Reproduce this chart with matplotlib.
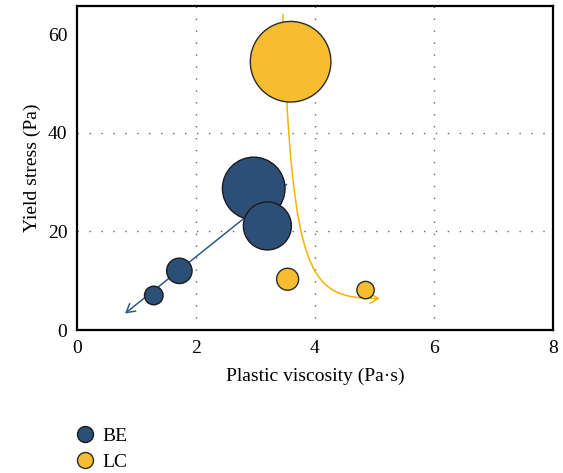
import matplotlib
matplotlib.use("Agg")
from matplotlib import pyplot as plt
from matplotlib.lines import Line2D
from matplotlib.path import Path
from matplotlib.patches import FancyArrowPatch
import numpy as np

plt.rcParams['font.family'] = ['Liberation Serif', 'DejaVu Serif']

# data
be_visc = [1.29, 1.72, 2.97, 3.20]
be_yield = [7.0, 12.0, 28.7, 21.1]
be_size = [9.3, 12.7, 31.3, 24.0]   # relative bubble radius

lc_visc = [3.59, 3.54, 4.85]
lc_yield = [54.4, 10.3, 8.1]
lc_size = [40.3, 11.0, 8.7]

# trend arrows
be_trend = [(3.56, 29.9), (0.77, 3.0)]
lc_trend = [(3.46, 64.0), (3.62, 10.0), (3.9, 6.4), (5.09, 6.4)]

xticks = [0, 2, 4, 6, 8]
yticks = [0, 20, 40, 60]

c_be = '#2c4f77'
c_lc = '#f5bd2f'

fig = plt.figure(figsize=(5.63, 4.73), dpi=100)
ax = fig.add_axes([0.1368, 0.3023, 0.8454, 0.685])

def area(r):
    # radius in pixels -> scatter area in pt^2
    return (2 * np.array(r) * 0.72) ** 2

for g in [2, 4, 6]:
    ax.axvline(g, color='#666666', lw=1.0, dashes=(1, 7.6), zorder=0)
for g in [20, 40]:
    ax.axhline(g, color='#666666', lw=1.0, dashes=(1, 7.6), zorder=0)

arr = FancyArrowPatch(be_trend[0], be_trend[1], arrowstyle='->,head_length=6,head_width=3.5',
                      color='#2e5a8a', lw=1.1, zorder=1)
ax.add_patch(arr)

codes = [Path.MOVETO, Path.CURVE4, Path.CURVE4, Path.CURVE4]
curve = FancyArrowPatch(path=Path(lc_trend, codes), arrowstyle='->,head_length=6,head_width=3.5',
                        color='#f5b400', lw=1.1, zorder=1)
ax.add_patch(curve)

ax.scatter(be_visc, be_yield, s=area(be_size), color=c_be, edgecolor='#1b1b1b', lw=1.0, zorder=2)
ax.scatter(lc_visc, lc_yield, s=area(lc_size), color=c_lc, edgecolor='#2b2b2b', lw=1.0, zorder=2)

ax.set_xlim(0, 8)
ax.set_ylim(0, 65.7)
ax.set_xticks(xticks)
ax.set_yticks(yticks)
ax.tick_params(length=0, labelsize=14, pad=7)
for sp in ax.spines.values():
    sp.set_linewidth(1.6)
ax.set_xlabel('Plastic viscosity (Pa·s)', fontsize=14, labelpad=8)
ax.set_ylabel('Yield stress (Pa)', fontsize=14, labelpad=5)

handles = [Line2D([], [], ls='', marker='o', markersize=11.5, markerfacecolor=c_be, markeredgecolor='#1b1b1b'),
           Line2D([], [], ls='', marker='o', markersize=11.5, markerfacecolor=c_lc, markeredgecolor='#2b2b2b')]
fig.legend(handles, ['BE', 'LC'], loc='upper left', bbox_to_anchor=(0.130, 0.097), frameon=False,
           fontsize=14, handletextpad=0.3, handlelength=1.2, labelspacing=0.45, borderaxespad=0,
           borderpad=0)

fig.savefig('out.png', dpi=100)
